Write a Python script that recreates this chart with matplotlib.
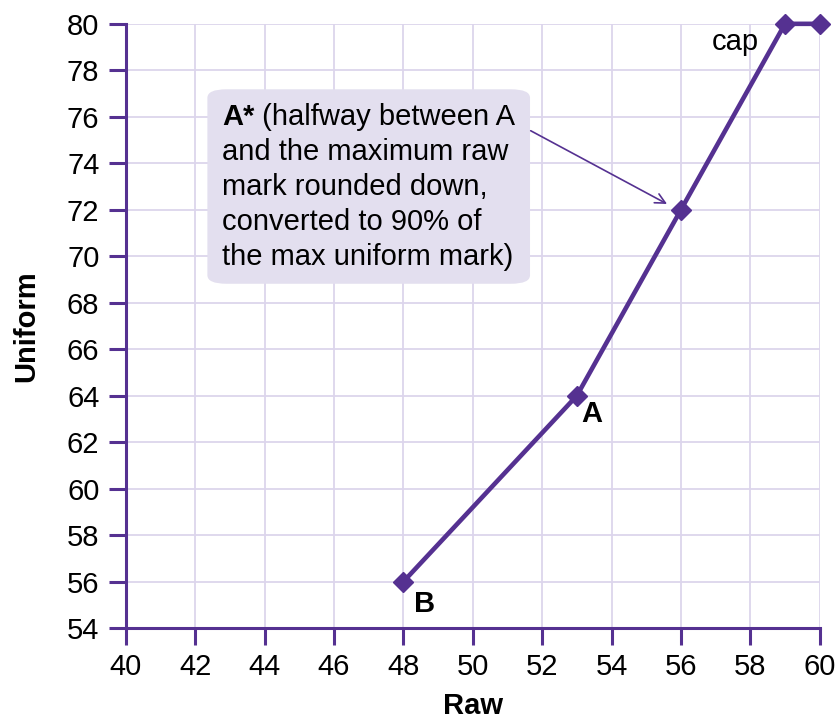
import matplotlib
matplotlib.use("Agg")
import matplotlib.pyplot as plt
from matplotlib.patches import FancyBboxPatch

plt.rcParams["font.family"] = ["Liberation Sans", "DejaVu Sans"]

raw = [48, 53, 56, 59, 60]
uniform = [56, 64, 72, 80, 80]
x_ticks = list(range(40, 61, 2))
y_ticks = list(range(54, 81, 2))

purple = "#553191"
grid_col = "#dcd5ec"
box_col = "#e3dfef"
fs = 21

fig = plt.figure(figsize=(8.39, 7.22), dpi=100)
ax = fig.add_axes([0.150, 0.130, 0.827, 0.837])

ax.plot(raw, uniform, color=purple, lw=3.3, marker="D", markersize=10,
        clip_on=False, zorder=5)

ax.set_xlim(40, 60)
ax.set_ylim(54, 80)
ax.set_xticks(x_ticks)
ax.set_yticks(y_ticks)
ax.grid(True, color=grid_col, lw=1.3)
ax.set_axisbelow(True)

for s in ["top", "right"]:
    ax.spines[s].set_visible(False)
for s in ["left", "bottom"]:
    ax.spines[s].set_color(purple)
    ax.spines[s].set_linewidth(2.2)
ax.tick_params(length=12, width=2.2, color=purple, labelsize=fs)
ax.tick_params(axis="y", pad=7)
ax.tick_params(axis="x", pad=6)

ax.set_xlabel("Raw", fontsize=fs, fontweight="bold", labelpad=8)
ax.set_ylabel("Uniform", fontsize=fs, fontweight="bold", labelpad=19)

# annotation box
box = FancyBboxPatch((42.55, 68.95), 8.9, 8.1,
                     boxstyle="round,pad=0.2,rounding_size=0.55",
                     fc=box_col, ec="none", zorder=3,
                     mutation_aspect=23.2 / 34.7)
ax.add_patch(box)

lines = ["and the maximum raw",
         "mark rounded down,",
         "converted to 90% of",
         "the max uniform mark)"]
x0 = 42.77
y0 = 75.65
step = 35 / 23.2
tb = ax.text(x0, y0, "A*", fontsize=fs, fontweight="bold", va="baseline",
             zorder=4)
ax.annotate(" (halfway between A", xy=(1, 0), xycoords=tb, fontsize=fs,
            va="bottom", zorder=4)
for i, ln in enumerate(lines):
    ax.text(x0, y0 - step * (i + 1), ln, fontsize=fs, va="baseline", zorder=4)

ax.annotate("", xy=(55.6, 72.25), xytext=(51.67, 75.4),
            arrowprops=dict(arrowstyle="->", color=purple, lw=1.2,
                            mutation_scale=18, shrinkA=0, shrinkB=0),
            zorder=4)

ax.text(57.58, 78.88, "cap", fontsize=fs, ha="center", va="baseline")
ax.text(53.43, 63.23, "A", fontsize=fs, fontweight="bold", ha="center",
        va="center")
ax.text(48.62, 55.04, "B", fontsize=fs, fontweight="bold", ha="center",
        va="center")

fig.savefig("out.png", dpi=100)
